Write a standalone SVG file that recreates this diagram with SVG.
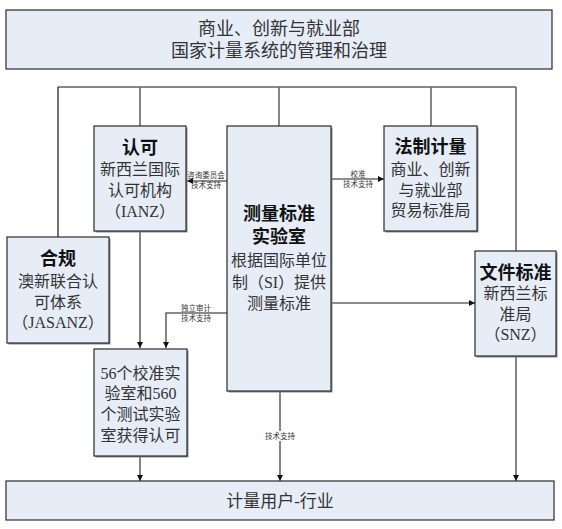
<svg xmlns="http://www.w3.org/2000/svg" width="562" height="529" viewBox="0 0 562 529">
<defs>
<marker id="arr" markerUnits="userSpaceOnUse" markerWidth="7" markerHeight="6" refX="6" refY="3" orient="auto">
<path d="M0,0 L6,3 L0,6 z" fill="#111"/>
</marker>
</defs>
<style>
.box{fill:#E7EDF7;stroke:#2a2a2a;stroke-width:1.2}
.sh{fill:#8a8a8a}
.t{font-family:"Liberation Serif","Noto Sans CJK SC",serif;font-size:16px;fill:#333;text-anchor:middle;dominant-baseline:central}
.b{font-family:"Liberation Serif","Noto Sans CJK SC",serif;font-size:18px;font-weight:bold;fill:#111;text-anchor:middle;dominant-baseline:central}
.s{font-family:"Liberation Serif","Noto Sans CJK SC",serif;font-size:7.5px;fill:#333;text-anchor:middle;dominant-baseline:central}
.c{fill:none;stroke:#666;stroke-width:1.6}
.k{fill:none;stroke:#111;stroke-width:1.2}
</style>
<rect width="562" height="529" fill="#fff"/>
<g id="connectors">
<path class="k" d="M58,87 H516"/>
<path class="k" d="M58,87 V237"/>
<path class="c" d="M140,87 V126"/>
<path class="c" d="M279,87 V126"/>
<path class="c" d="M431,87 V126"/>
<path class="c" d="M516,87 V251"/>
<path class="c" d="M140,231 V348" marker-end="url(#arr)"/>
<path class="c" d="M227,313 H166 V348" marker-end="url(#arr)"/>
<path class="c" d="M227,181 H187" marker-end="url(#arr)"/>
<path class="c" d="M331,179 H384" marker-end="url(#arr)"/>
<path class="c" d="M331,303 H475" marker-end="url(#arr)"/>
<path class="c" d="M280,391 V481" marker-end="url(#arr)"/>
<path class="c" d="M140,456 V481" marker-end="url(#arr)"/>
<path class="c" d="M516,356 V481" marker-end="url(#arr)"/>
<text class="s" x="206" y="175">咨询委员会</text>
<text class="s" x="206" y="185">技术支持</text>
<text class="s" x="358" y="174">校准</text>
<text class="s" x="358" y="184">技术支持</text>
<text class="s" x="196" y="308">独立审计</text>
<text class="s" x="196" y="318">技术支持</text>
<rect x="264" y="431" width="32" height="10" fill="#fff"/>
<text class="s" x="280" y="436">技术支持</text>
</g>
<g id="top">
<rect class="box" x="6" y="10" width="546" height="59"/>
<text class="t" style="font-size:18px" x="279" y="29">商业、创新与就业部</text>
<text class="t" style="font-size:18px" x="279" y="51">国家计量系统的管理和治理</text>
</g>
<g id="ianz">
<rect class="sh" x="95.5" y="127.5" width="92" height="105"/>
<rect class="box" x="94" y="126" width="92" height="105"/>
<text class="b" x="140" y="148">认可</text>
<text class="t" x="140" y="169">新西兰国际</text>
<text class="t" x="140" y="190">认可机构</text>
<text class="t" x="140" y="211">（IANZ）</text>
</g>
<g id="jasanz">
<rect class="sh" x="8.5" y="238.5" width="102" height="106"/>
<rect class="box" x="7" y="237" width="102" height="106"/>
<text class="b" x="58" y="259">合规</text>
<text class="t" x="58" y="281">澳新联合认</text>
<text class="t" x="58" y="302">可体系</text>
<text class="t" x="58" y="322">（JASANZ）</text>
</g>
<g id="msl">
<rect class="sh" x="228.5" y="127.5" width="104" height="265"/>
<rect class="box" x="227" y="126" width="104" height="265"/>
<text class="b" x="279" y="214">测量标准</text>
<text class="b" x="279" y="237">实验室</text>
<text class="t" x="279" y="260">根据国际单位</text>
<text class="t" x="279" y="282">制（SI）提供</text>
<text class="t" x="279" y="303">测量标准</text>
</g>
<g id="legal">
<rect class="sh" x="385.5" y="127.5" width="93" height="105"/>
<rect class="box" x="384" y="126" width="93" height="105"/>
<text class="b" x="430.5" y="147">法制计量</text>
<text class="t" x="430.5" y="169">商业、创新</text>
<text class="t" x="430.5" y="190">与就业部</text>
<text class="t" x="430.5" y="210">贸易标准局</text>
</g>
<g id="snz">
<rect class="sh" x="476.5" y="252.5" width="81" height="105"/>
<rect class="box" x="475" y="251" width="81" height="105"/>
<text class="b" x="515.5" y="273">文件标准</text>
<text class="t" x="515.5" y="293">新西兰标</text>
<text class="t" x="515.5" y="314">准局</text>
<text class="t" x="515.5" y="334">（SNZ）</text>
</g>
<g id="labs">
<rect class="sh" x="95.5" y="350.5" width="93" height="107"/>
<rect class="box" x="94" y="349" width="93" height="107"/>
<text class="t" x="140.5" y="373">56个校准实</text>
<text class="t" x="140.5" y="393">验室和560</text>
<text class="t" x="140.5" y="414">个测试实验</text>
<text class="t" x="140.5" y="435">室获得认可</text>
</g>
<g id="users">
<rect class="box" x="6" y="481" width="548" height="39"/>
<text class="t" style="font-size:17px" x="280" y="501">计量用户-行业</text>
</g>
</svg>
